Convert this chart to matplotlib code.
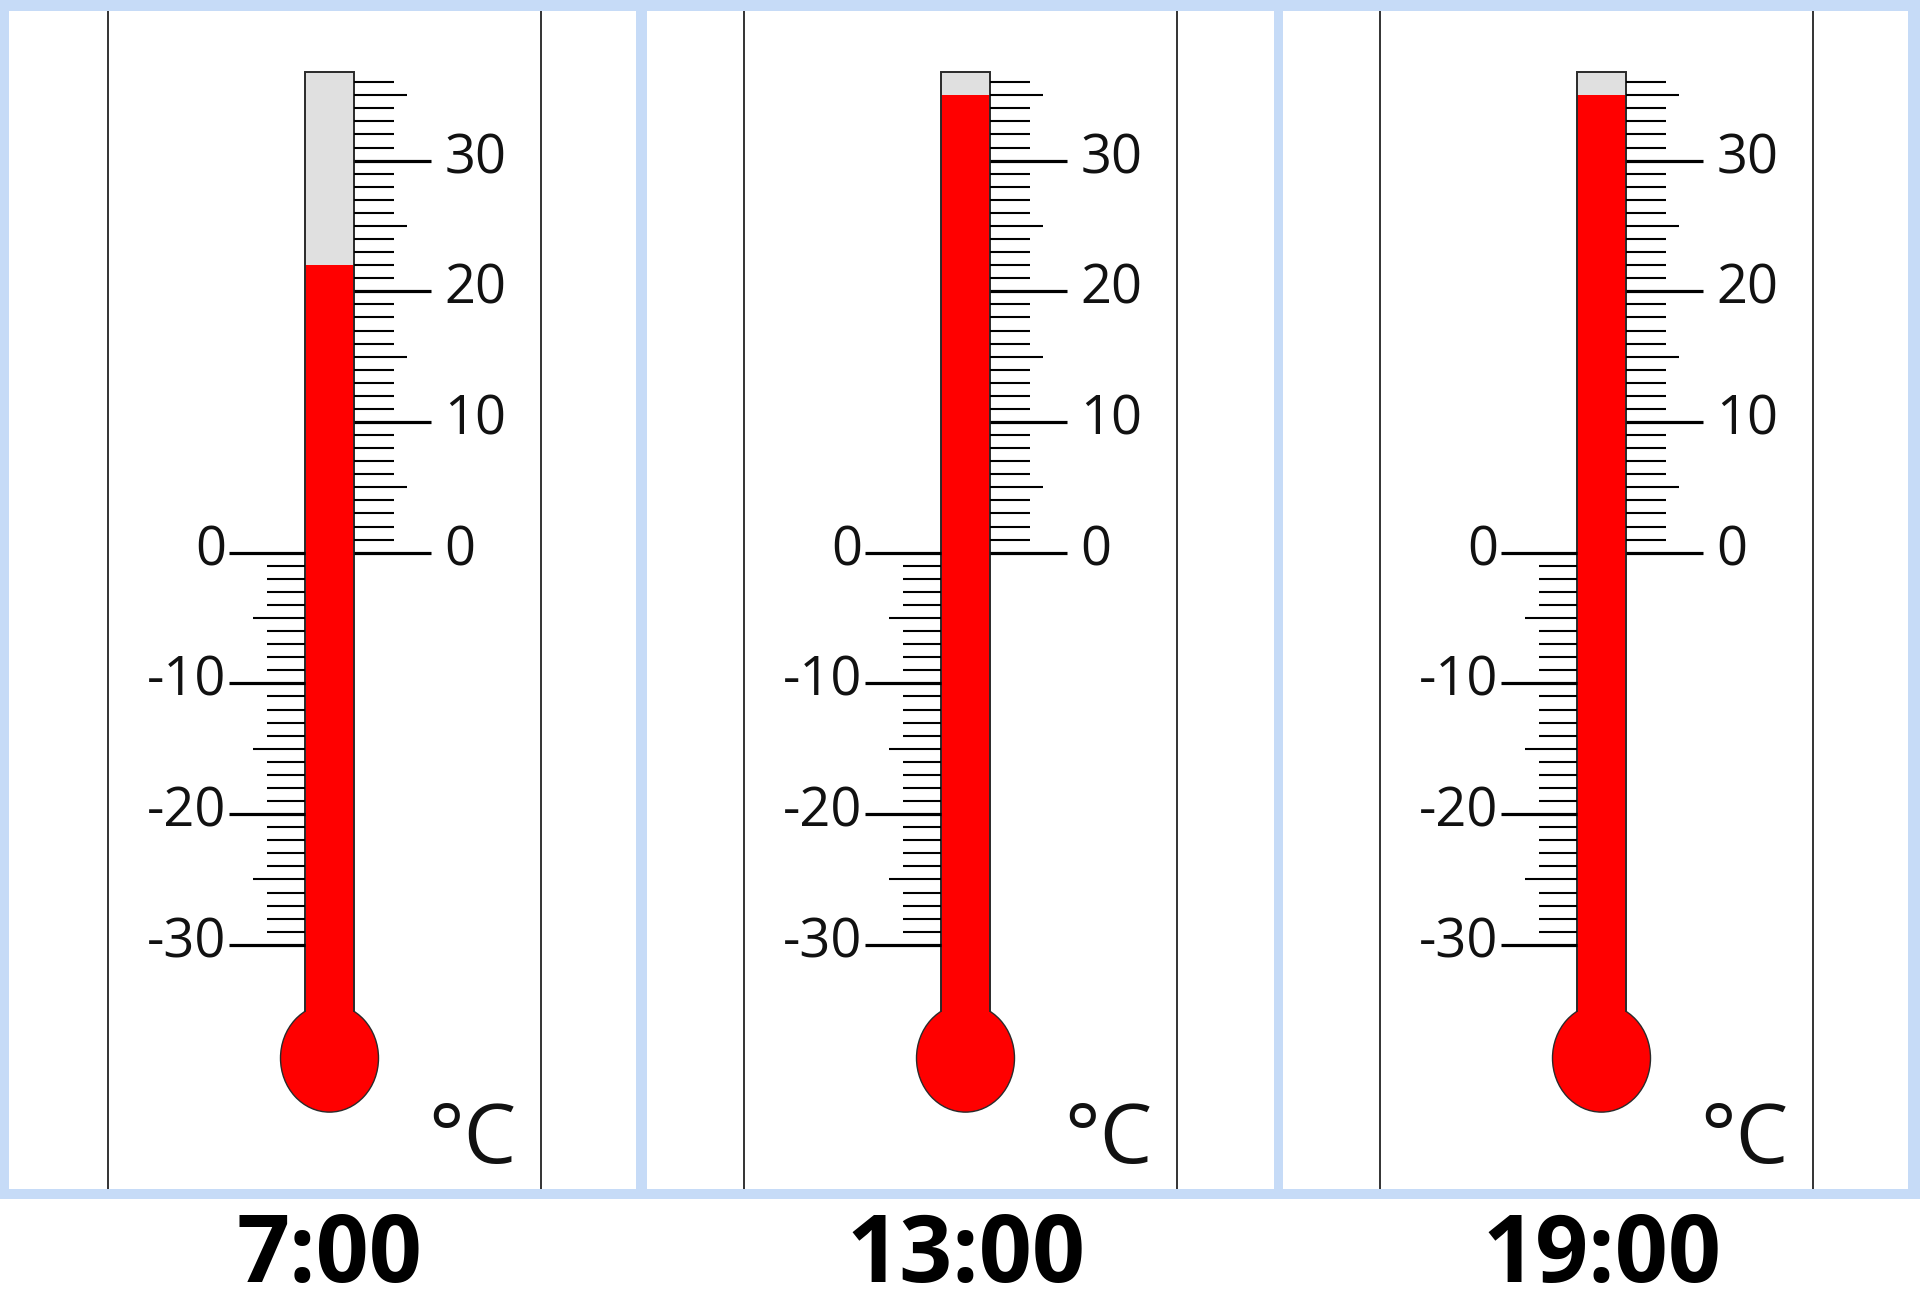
import numpy as np
import matplotlib
matplotlib.use("Agg")
import matplotlib.pyplot as plt
from matplotlib.patches import Rectangle, Ellipse

# ---------------- data ----------------
times = ["7:00", "13:00", "19:00"]
temperatures = [22, 35, 35]
upper_scale = list(range(0, 37))     # ticks on the right of the tube
lower_scale = list(range(-30, 1))    # ticks on the left of the tube
upper_labels = [0, 10, 20, 30]
lower_labels = [0, -10, -20, -30]
unit = "°C"

# ---------------- layout ----------------
W, H, DPI = 1920, 1306, 100
PX0 = 552.7          # pixel row of 0 °C
PX_PER_DEG = 13.07   # pixels per degree
BLUE = "#C6DBF7"
RED = "#FF0000"
GREY = "#E0E0E0"
DARK = "#2a2a2a"
FONT = ["Open Sans", "DejaVu Sans"]

fig = plt.figure(figsize=(W / DPI, H / DPI), dpi=DPI)
fig.patch.set_facecolor("white")

# pixel axes for the frame and captions
bg = fig.add_axes([0, 0, 1, 1])
bg.set_xlim(0, W)
bg.set_ylim(H, 0)
bg.axis("off")

# temperature axes: x in pixels, y in degrees Celsius
ax = fig.add_axes([0, 0, 1, 1])
ax.set_xlim(0, W)
ax.set_ylim((PX0 - H) / PX_PER_DEG, PX0 / PX_PER_DEG)
ax.axis("off")

deg_per_px = 1.0 / PX_PER_DEG

# frame
for (x, y, w, h) in [(0, 0, W, 11), (0, 0, 9, 1199), (636, 0, 11, 1199),
                     (1274, 0, 9, 1199), (1908, 0, 12, 1199), (0, 1189, W, 10)]:
    bg.add_patch(Rectangle((x, y), w, h, facecolor=BLUE, edgecolor="none"))

PANEL = 636
tube_top = 36.8
shoulder = -35.1
bulb_c = -38.67
bulb_h = 108 * deg_per_px
half = 24.5

for k, (label, temp) in enumerate(zip(times, temperatures)):
    off = PANEL * k
    cx = 329.5 + off
    # thin vertical rules
    bg.vlines([108 + off, 540.5 + off], 11, 1189, color="#333333", lw=1.4)

    # tube (empty part)
    ax.add_patch(Rectangle((cx - half, shoulder - 1), 2 * half, tube_top - shoulder + 1,
                           facecolor=GREY, edgecolor="none", zorder=1))
    # bulb
    ax.add_patch(Ellipse((cx, bulb_c), 98, bulb_h, facecolor=RED, edgecolor=DARK,
                         lw=1.0, zorder=2))
    # liquid column
    ax.add_patch(Rectangle((cx - half, bulb_c), 2 * half, temp - bulb_c,
                           facecolor=RED, edgecolor="none", zorder=3))
    # tube outline
    ax.plot([cx - half, cx - half, cx + half, cx + half],
            [shoulder, tube_top, tube_top, shoulder], color=DARK, lw=1.4, zorder=4,
            solid_joinstyle="miter")

    # right scale
    for t in upper_scale:
        if t % 10 == 0:
            ln, lw = 77, 2.3
        elif t % 5 == 0:
            ln, lw = 53, 1.5
        else:
            ln, lw = 40, 1.5
        ax.hlines(t, cx + half, cx + half + ln, color="black", lw=lw, zorder=4)
    # left scale
    for t in lower_scale:
        if t % 10 == 0:
            ln, lw = 76, 2.3
        elif t % 5 == 0:
            ln, lw = 52, 1.5
        else:
            ln, lw = 38, 1.5
        ax.hlines(t, cx - half - ln, cx - half, color="black", lw=lw, zorder=4)

    for t in upper_labels:
        ax.text(cx + 115, t - 12.5 * deg_per_px, str(t), ha="left", va="baseline",
                fontsize=39, family=FONT, color="#111111")
    for t in lower_labels:
        ax.text(cx - 103, t - 12.5 * deg_per_px, str(t), ha="right", va="baseline",
                fontsize=39, family=FONT, color="#111111")

    # unit
    ax.text(cx + 99, (PX0 - 1163) * deg_per_px, unit, ha="left", va="baseline",
            fontsize=60, family=FONT, color="#111111")

    # caption
    bg.text(cx, 1282, label, ha="center", va="baseline", fontsize=67,
            fontweight="bold", family=FONT, color="black")

fig.savefig("out.png", dpi=DPI, facecolor="white")
